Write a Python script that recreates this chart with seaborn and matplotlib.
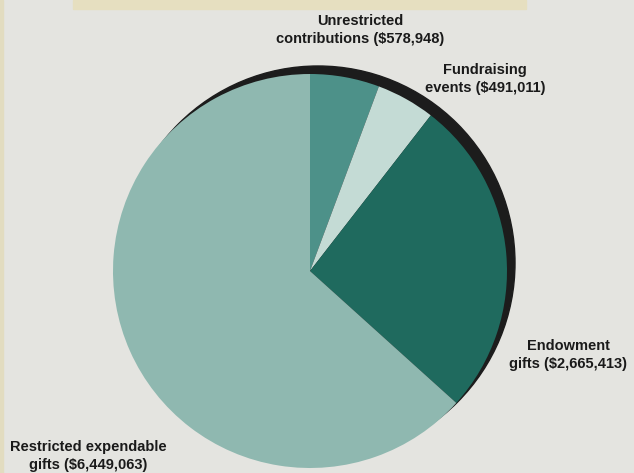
import matplotlib
matplotlib.use("Agg")
import matplotlib.pyplot as plt
import seaborn as sns
from matplotlib.patches import Circle, Rectangle

# ---- data ----
categories = ["Unrestricted\ncontributions", "Fundraising\nevents",
              "Endowment\ngifts", "Restricted expendable\ngifts"]
values = [578948, 491011, 2665413, 6449063]
colors = ["#4d9189", "#c4dbd5", "#1f6a5e", "#8fb8b0"]

sns.set_theme(style="white")
plt.rcParams['font.family'] = ['Liberation Sans', 'DejaVu Sans']

W, H = 634, 473
fig = plt.figure(figsize=(W / 100, H / 100), dpi=100)
bg = "#e4e4e0"
fig.patch.set_facecolor(bg)
ax = fig.add_axes([0, 0, 1, 1])
ax.set_facecolor(bg)

cx, cy, r = 310, H - 271, 197

# shadow circle
ax.add_patch(Circle((cx + 8, cy + 8), r, color="#1c1c1c", zorder=1))

ax.pie(values, colors=colors, startangle=90, counterclock=False,
       center=(cx, cy), radius=r, frame=True,
       wedgeprops=dict(linewidth=0, zorder=2))

# decorative banner and left strip
ax.add_patch(Rectangle((73, H - 9), 453, 9, color="#e6dfc0", zorder=0))
ax.add_patch(Rectangle((0, 0), 3, H, color="#e2dcc0", zorder=0))

label_pos = [(360, 30), (485, 79), (568, 355), (88, 456)]
for cat, v, (x, y) in zip(categories, values, label_pos):
    ax.text(x, H - y, f"{cat} (\\${v:,})", ha="center", va="center",
            multialignment="center", fontsize=10.5, fontweight="bold",
            color="#1a1a1a", linespacing=1.35, zorder=5)

ax.set_xlim(0, W)
ax.set_ylim(0, H)
ax.set_aspect("equal")
ax.axis("off")

fig.savefig("out.png", dpi=100, facecolor=bg)
